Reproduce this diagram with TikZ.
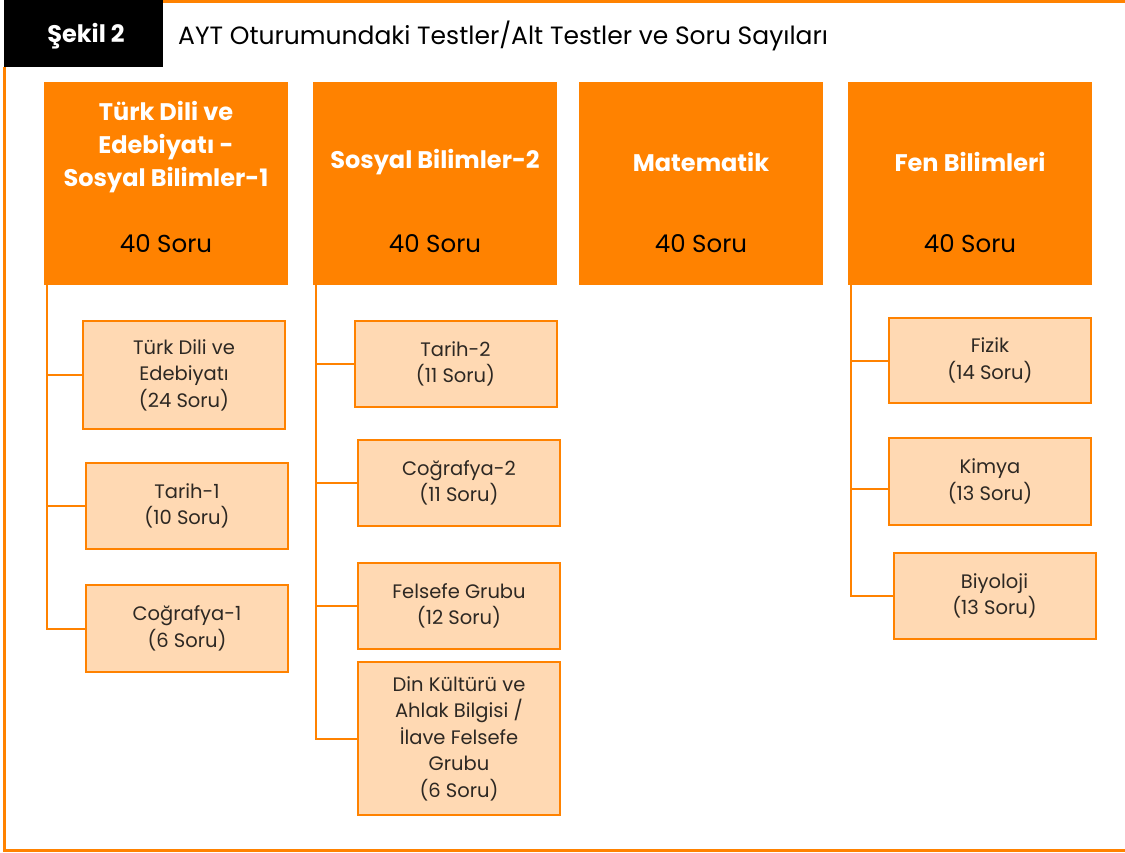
\documentclass[tikz,border=0pt]{standalone}
\usepackage{fontspec}
\setmainfont{Poppins}
\usetikzlibrary{positioning,calc}
\definecolor{org}{RGB}{255,130,0}
\definecolor{lorg}{RGB}{255,217,179}
\definecolor{txt}{RGB}{45,40,35}
\tikzset{
  hdr/.style={fill=org, draw=none, minimum width=244pt, minimum height=203pt, inner sep=0pt},
  htitle/.style={text=white, font=\fontsize{24}{33}\selectfont\bfseries, align=center, inner sep=0pt},
  hcount/.style={text=black, font=\fontsize{24.5}{26}\selectfont, inner sep=0pt},
  sub/.style={fill=lorg, draw=org, line width=2pt, minimum width=202pt, inner sep=0pt, text=txt,
    font=\fontsize{19.5}{26.5}\selectfont, align=center},
  conn/.style={draw=org, line width=2pt},
  frame/.style={draw=org, line width=3pt}
}
\begin{document}
\begin{tikzpicture}[x=1pt,y=-1pt]
\useasboundingbox (0,0) rectangle (1125,853);
% frame
\draw[frame] (163,1.5) -- (1125,1.5);
\draw[frame] (4,67) -- (4,850.5) -- (1125,850.5);
% caption
\node[fill=black, minimum width=159pt, minimum height=67pt, inner sep=0pt, text=white] (cap) at (83.5,33.5) {};
\node[inner sep=0pt, text=white, font=\fontsize{24}{26}\selectfont\bfseries] (capt) at (86,36) {Şekil 2};
\node[anchor=west, inner sep=0pt, font=\fontsize{25}{28}\selectfont, text=black] (title) at (178,36)
  {AYT Oturumundaki Testler/Alt Testler ve Soru Sayıları};
% headers
\node[hdr] (h1) at (166,183.5) {};
\node[hdr] (h2) at (435,183.5) {};
\node[hdr] (h3) at (701,183.5) {};
\node[hdr] (h4) at (970,183.5) {};
\node[htitle] (h1t) at (166,147) {Türk Dili ve\\Edebiyatı -\\Sosyal Bilimler-1};
\node[htitle] (h2t) at (435,162) {Sosyal Bilimler-2};
\node[htitle] (h3t) at (701,162) {Matematik};
\node[htitle] (h4t) at (970,162) {Fen Bilimleri};
\node[hcount] (h1c) at (166,244) {40 Soru};
\node[hcount] (h2c) at (435,244) {40 Soru};
\node[hcount] (h3c) at (701,244) {40 Soru};
\node[hcount] (h4c) at (970,244) {40 Soru};
% column 1
\node[sub, minimum height=108pt] (c11) at (184,375) {Türk Dili ve\\Edebiyatı\\(24 Soru)};
\node[sub, minimum height=86pt] (c12) at (187,506) {Tarih-1\\(10 Soru)};
\node[sub, minimum height=87pt] (c13) at (187,628.5) {Coğrafya-1\\(6 Soru)};
% column 2
\node[sub, minimum height=86pt] (c21) at (455.5,364) {Tarih-2\\(11 Soru)};
\node[sub, minimum height=86pt] (c22) at (459,483) {Coğrafya-2\\(11 Soru)};
\node[sub, minimum height=86pt] (c23) at (459,606) {Felsefe Grubu\\(12 Soru)};
\node[sub, minimum height=153pt] (c24) at (459,738.5) {Din Kültürü ve\\Ahlak Bilgisi /\\İlave Felsefe\\Grubu\\(6 Soru)};
% column 4
\node[sub, minimum height=85pt] (c41) at (990,360.5) {Fizik\\(14 Soru)};
\node[sub, minimum height=87pt] (c42) at (990,481.5) {Kimya\\(13 Soru)};
\node[sub, minimum height=86pt] (c43) at (994.5,596) {Biyoloji\\(13 Soru)};
% trunks
\coordinate (t1) at ($(h1.south west)+(3,0)$);
\coordinate (t2) at ($(h2.south west)+(3,0)$);
\coordinate (t4) at ($(h4.south west)+(3,0)$);
\draw[conn] (t1) |- (c11.west);
\draw[conn] (t1) |- (c12.west);
\draw[conn] (t1) |- (c13.west);
\draw[conn] (t2) |- (c21.west);
\draw[conn] (t2) |- (c22.west);
\draw[conn] (t2) |- (c23.west);
\draw[conn] (t2) |- (c24.west);
\draw[conn] (t4) |- (c41.west);
\draw[conn] (t4) |- ([yshift=-7.5pt]c42.west);
\draw[conn] (t4) |- (c43.west);
\end{tikzpicture}
\end{document}
